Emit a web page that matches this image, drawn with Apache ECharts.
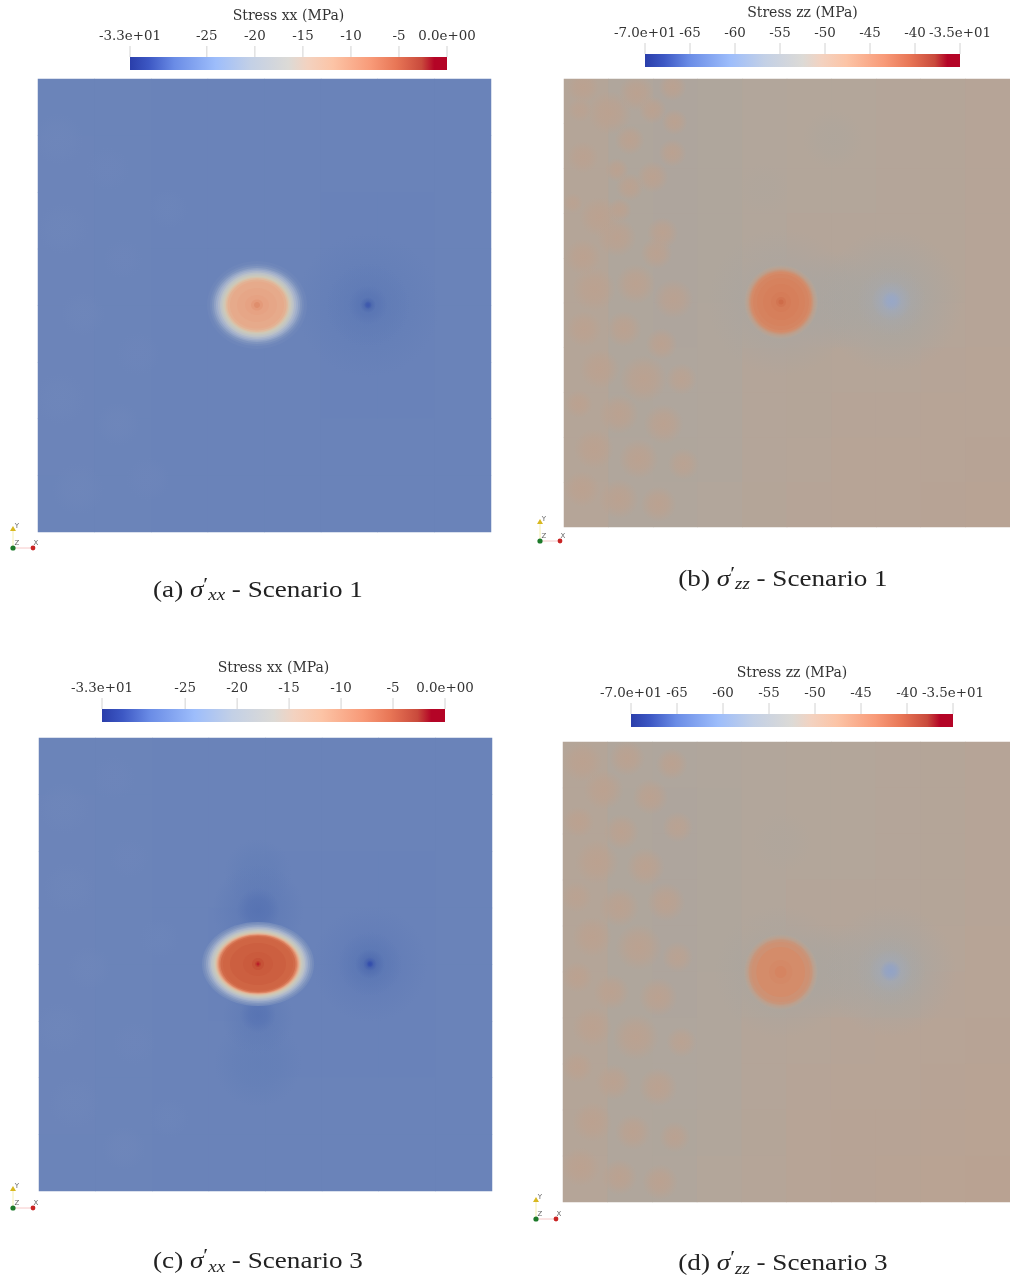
<!DOCTYPE html>
<html><head><meta charset="utf-8"><style>html,body{margin:0;padding:0;background:#fff}#c{width:1010px;height:1277px}</style>
<script src="https://cdn.jsdelivr.net/npm/echarts@6/dist/echarts.min.js"></script></head>
<body><div id="c"></div><script>
// ---------- tick labels / titles ----------
const ticksXX=[-33,-25,-20,-15,-10,-5,0];
const labelsXX=["-3.3e+01","-25","-20","-15","-10","-5","0.0e+00"];
const ticksZZ=[-70,-65,-60,-55,-50,-45,-40,-35];
const labelsZZ=["-7.0e+01","-65","-60","-55","-50","-45","-40","-3.5e+01"];
// colour legend gradient (fraction along bar, colour)
const barStops=[[0,'#2a3eaa'],[0.06,'#3d58c4'],[0.14,'#6a8ce6'],[0.27,'#9dbdfb'],[0.38,'#c3d0e6'],[0.5,'#dcdad6'],[0.56,'#f3d2c0'],[0.64,'#fcc4a6'],[0.76,'#f89a78'],[0.84,'#e87656'],[0.92,'#c94a3c'],[0.96,'#b40426'],[1,'#b40426']];
// shaded field colours (stress value, colour)
const fieldXX=[[-33,'#2c46ac'],[-30,'#4a66ad'],[-28.5,'#5c78b5'],[-27,'#6a83b9'],[-24,'#8095bf'],[-21,'#a0aecb'],[-18,'#bcc2c8'],[-15,'#ccc9ba'],[-13,'#dbc2a8'],[-10.5,'#e6ab8d'],[-9,'#e6a080'],[-7,'#dd8866'],[-5,'#cf6544'],[-3.5,'#c54f35'],[-2,'#bf3a2c'],[0,'#b40426']];
const fieldZZ=[[-70,'#2c46ac'],[-60,'#7c93c8'],[-56,'#97a7c8'],[-54,'#a0a9ba'],[-52,'#a8a6a3'],[-51,'#aba59e'],[-50,'#b2a69b'],[-49,'#b8a394'],[-48,'#bda08d'],[-46.5,'#d48c6a'],[-45,'#d67f5b'],[-43,'#cf6f4c'],[-41,'#c9613f'],[-35,'#b40426']];
// ---------- base stress fields (MPa), rows top to bottom ----------
const gridA=[
[-26.9,-26.9,-27,-27,-27,-27,-27,-27],
[-26.8,-26.9,-27,-27,-27,-27,-27,-27],
[-26.8,-26.9,-27,-27,-27,-27.1,-27.1,-27],
[-26.8,-26.9,-27,-27,-27,-27.1,-27.1,-27],
[-26.8,-26.9,-27,-27,-27,-27.1,-27.1,-27],
[-26.8,-26.9,-27,-27,-27,-27.1,-27.1,-27],
[-26.8,-26.9,-27,-27,-27,-27,-27,-27],
[-26.9,-26.9,-27,-27,-27,-27,-27,-27]];
const gridC=[
[-26.9,-26.9,-27,-27,-27,-27,-27,-27],
[-26.8,-26.9,-27,-27,-27,-27,-27,-27],
[-26.8,-26.9,-27,-27,-27.1,-27.1,-27.1,-27],
[-26.8,-26.9,-27,-27.1,-27.1,-27.1,-27.1,-27],
[-26.8,-26.9,-27,-27.1,-27.1,-27.1,-27.1,-27],
[-26.8,-26.9,-27,-27,-27.1,-27.1,-27.1,-27],
[-26.8,-26.9,-27,-27,-27,-27,-27,-27],
[-26.9,-26.9,-27,-27,-27,-27,-27,-27]];
const gridB=[
[-49.6,-50.3,-50.6,-50.4,-50,-49.9,-49.9,-49.8,-49.6,-49.4],
[-49.6,-50.4,-50.6,-50.4,-50,-49.9,-49.9,-49.8,-49.6,-49.4],
[-49.6,-50.4,-50.6,-50.4,-50,-49.9,-49.9,-49.8,-49.6,-49.4],
[-49.6,-50.4,-50.6,-50.4,-50,-49.8,-49.8,-49.8,-49.6,-49.4],
[-49.6,-50.4,-50.6,-50.4,-49.9,-49.8,-49.8,-49.7,-49.6,-49.4],
[-49.6,-50.4,-50.6,-50.3,-49.9,-49.7,-49.7,-49.6,-49.5,-49.4],
[-49.6,-50.4,-50.5,-50.3,-49.8,-49.6,-49.5,-49.5,-49.4,-49.3],
[-49.6,-50.4,-50.5,-50.2,-49.8,-49.6,-49.4,-49.4,-49.3,-49.2],
[-49.6,-50.3,-50.4,-50.2,-49.7,-49.5,-49.3,-49.3,-49.2,-49.1],
[-49.5,-50.2,-50.3,-50,-49.6,-49.4,-49.3,-49.2,-49.1,-49]];
const gridD=[
[-49.6,-50.2,-50.5,-50.3,-50,-49.9,-49.9,-49.8,-49.6,-49.4],
[-49.6,-50.4,-50.6,-50.4,-50,-49.9,-49.9,-49.8,-49.6,-49.4],
[-49.6,-50.4,-50.6,-50.4,-50,-49.9,-49.9,-49.8,-49.6,-49.4],
[-49.6,-50.4,-50.6,-50.4,-50,-49.8,-49.8,-49.8,-49.6,-49.4],
[-49.6,-50.4,-50.6,-50.4,-49.9,-49.8,-49.8,-49.7,-49.5,-49.3],
[-49.6,-50.4,-50.6,-50.3,-49.9,-49.7,-49.7,-49.6,-49.4,-49.3],
[-49.6,-50.4,-50.5,-50.3,-49.8,-49.5,-49.4,-49.3,-49.2,-49.1],
[-49.6,-50.4,-50.5,-50.2,-49.7,-49.4,-49.2,-49.2,-49.1,-49],
[-49.6,-50.3,-50.4,-50.1,-49.6,-49.3,-49.1,-49.1,-49,-48.9],
[-49.5,-50.2,-50.2,-49.9,-49.5,-49.2,-49.1,-49,-48.9,-48.8]];
// ---------- diffuse patches: [centre x, centre y, radius x, radius y, MPa] ----------
const softA=[
[20,60,26,34,-26.5],[70,90,22,28,-26.6],[25,150,28,26,-26.5],[85,180,20,30,-26.6],[45,235,26,22,-26.5],[100,275,22,26,-26.6],[22,320,26,30,-26.5],[80,345,26,22,-26.5],[110,400,22,28,-26.6],[40,410,26,28,-26.5],[130,130,22,20,-26.7],
[330,226,72,86,-27.7],[330,226,42,48,-28.1],[330,226,20,22,-28.8],[330,226,8,8,-30],[330,226,4,4,-31.5]];
const softC=[
[25,70,26,30,-26.5],[75,40,22,28,-26.6],[30,150,28,26,-26.5],[90,120,20,30,-26.6],[50,230,26,22,-26.5],[20,290,26,30,-26.5],[95,305,22,26,-26.6],[35,365,26,26,-26.5],[85,410,26,22,-26.5],[120,200,20,28,-26.7],[130,380,20,26,-26.7],
[219,135,34,62,-27.6],[219,325,44,62,-27.6],[219,172,46,46,-28.1],[219,172,30,22,-29],[219,280,46,36,-28],[219,277,32,18,-28.9],
[331,226,58,92,-27.9],[331,226,32,42,-28.6],[331,226,15,18,-29.6],[331,226,7,7,-31],[331,226,3.5,3.5,-32.5]];
const softB=[
[19,8,24,16,-48.3],[73,14,30,18,-48.3],[46,34,22,24,-48.3],[66,61,28,15,-48.3],[111,43,18,13,-48.3],[109,8,20,14,-48.3],[89,31,14,22,-48.3],[16,31,12,22,-48.5],[19,78,16,26,-48.4],[89,98,28,16,-48.3],[66,108,24,14,-48.3],[53,91,18,12,-48.3],[36,138,26,20,-48.3],[53,158,20,28,-48.3],[99,154,16,28,-48.3],[19,178,18,28,-48.3],[93,174,22,16,-48.3],[109,74,14,16,-48.3],[9,124,10,24,-48.5],[56,131,18,12,-48.3],
[30,210,28,22,-48.3],[72,205,24,20,-48.3],[110,220,20,24,-48.4],[20,250,18,26,-48.3],[60,250,28,18,-48.3],[98,265,22,16,-48.3],[36,290,28,20,-48.3],[80,300,24,24,-48.3],[118,300,16,20,-48.5],[15,325,14,26,-48.3],[55,335,24,20,-48.3],[100,345,24,20,-48.3],[30,370,24,20,-48.3],[75,380,28,20,-48.3],[120,385,16,20,-48.5],[18,410,18,24,-48.3],[55,420,24,20,-48.3],[95,425,24,18,-48.3],
[270,60,40,30,-50.4],[200,110,40,26,-50.3],
[272,222,76,50,-51.2],[218,223,74,74,-51.4],[329,222,72,74,-51.6],[329,222,35,37,-52.6],[329,222,20,22,-54],[329,222,10,10,-56]];
const softD=[
[20,20,24,20,-48.3],[66,16,28,18,-48.3],[112,22,20,16,-48.3],[42,48,24,20,-48.3],[90,55,24,18,-48.3],[16,80,16,26,-48.3],[60,90,28,18,-48.3],[118,85,16,24,-48.5],[35,120,24,22,-48.3],[85,125,20,24,-48.3],[14,155,16,24,-48.5],[58,165,28,20,-48.3],[106,160,20,20,-48.3],[30,195,24,20,-48.3],[78,205,24,24,-48.3],[118,215,16,20,-48.5],[15,235,16,26,-48.3],[50,250,28,18,-48.3],[98,255,20,20,-48.3],[30,285,24,20,-48.3],[75,295,24,24,-48.3],[122,300,16,20,-48.5],[15,325,16,24,-48.3],[52,340,24,18,-48.3],[98,345,20,22,-48.3],[30,380,24,20,-48.3],[72,390,24,18,-48.3],[115,395,16,20,-48.4],[18,425,20,20,-48.3],[58,435,28,18,-48.3],[100,440,20,18,-48.3],
[225,100,60,30,-50.3],
[278,229,74,48,-51],[224,230,68,68,-51.2],[337,229,68,70,-51.5],[337,229,36,38,-52.4],[337,229,22,24,-53.5],[337,229,11,11,-57]];
// ---------- stress contours: same columns, outermost first ----------
const contoursA=[
[219,226,50,44,-26.5],[219,226,47,41,-25.5],[219,226,45,39,-24],[219,226,43,37,-22.5],[219,226,41,35.5,-21],[219,226,39,34,-19.5],[219,226,37,32.5,-18],[219,226,35.5,31,-16.5],[219,226,34,29.5,-15],[219,226,32.5,28,-13.5],[219,226,31,27,-12.2],[219,226,29.5,25.5,-11],[219,226,27,23.5,-10.3],[219,226,20,17,-9.8],[219,226,12,10,-9.3],[219,226,6,5.5,-8.5],[219,226,3,3,-7.5]];
const contoursB=[
[218,223,37,37,-50.3],[218,223,36,36,-49.5],[218,223,35,35,-48.8],[218,223,34,34,-48.2],[218,223,33,33,-47.7],[218,223,32,32,-47.2],[218,223,31,31,-46.8],[218,223,30,30,-46.3],[218,223,28,28,-45.7],[218,223,24,24,-45.3],[218,223,18,18,-45],[218,223,10,10,-44.6],[218,223,5,5,-43.8],[218,223,2.5,2.5,-42.5]];
const contoursC=[
[219,226,56,42,-25.5],[219,226,54,40.5,-24],[219,226,52,39,-22.5],[219,226,50,37.5,-21],[219,226,48.5,36.5,-19.5],[219,226,47,35,-18],[219,226,45.5,34,-16.5],[219,226,44,33,-15],[219,226,43,32,-13.5],[219,226,42,31,-12],[219,226,41,30,-10],[219,226,40,29.5,-8],[219,226,39,29,-6.5],[219,226,37.5,28,-5.3],[219,226,35,26.5,-5],[219,226,28,21,-4.6],[219,226,15,12,-4.3],[219,226,6,6,-3.7],[219,226,3,3,-2.5],[219,226,1.5,1.5,-1]];
const contoursD=[
[224,230,38,38,-50.3],[224,230,37,37,-49.6],[224,230,36,36,-49],[224,230,35,35,-48.4],[224,230,34,34,-47.9],[224,230,33,33,-47.5],[224,230,32,32,-47.2],[224,230,30,30,-46.9],[224,230,25,25,-46.5],[224,230,12,12,-46.2],[224,230,6,6,-45.6]];
// ---------- page layout ----------
const panels=[
 {grid:gridA,soft:softA,cont:contoursA,pal:fieldXX,rect:[38,79,453,453],bar:[130,57,317,13],ticks:ticksXX,labels:labelsXX,title:'Stress xx (MPa)',vmin:-33,vmax:0,cap:'(a) ',sub:'xx',sc:' - Scenario 1',capAt:[258,590.5],triad:[13,548],bg:-27},
 {grid:gridB,soft:softB,cont:contoursB,pal:fieldZZ,rect:[564,79,448,448],bar:[645,54,315,13],ticks:ticksZZ,labels:labelsZZ,title:'Stress zz (MPa)',vmin:-70,vmax:-35,cap:'(b) ',sub:'zz',sc:' - Scenario 1',capAt:[783,579.5],triad:[540,541],bg:-49.8},
 {grid:gridC,soft:softC,cont:contoursC,pal:fieldXX,rect:[39,738,453,453],bar:[102,709,343,13],ticks:ticksXX,labels:labelsXX,title:'Stress xx (MPa)',vmin:-33,vmax:0,cap:'(c) ',sub:'xx',sc:' - Scenario 3',capAt:[258,1262],triad:[13,1208],bg:-27},
 {grid:gridD,soft:softD,cont:contoursD,pal:fieldZZ,rect:[563,742,460,460],bar:[631,714,322,13],ticks:ticksZZ,labels:labelsZZ,title:'Stress zz (MPa)',vmin:-70,vmax:-35,cap:'(d) ',sub:'zz',sc:' - Scenario 3',capAt:[783,1264],triad:[536,1219],bg:-49.8}];
function hex(c){return [1,3,5].map(i=>parseInt(c.substr(i,2),16));}
function rgbAt(st,v){
 if(v<=st[0][0])return hex(st[0][1]);
 for(let i=1;i<st.length;i++){if(v<=st[i][0]){const t=(v-st[i-1][0])/(st[i][0]-st[i-1][0]),a=hex(st[i-1][1]),b=hex(st[i][1]);
  return a.map((x,k)=>Math.round(x+(b[k]-x)*t));}}
 return hex(st[st.length-1][1]);}
function colorAt(st,v){return 'rgb('+rgbAt(st,v).join(',')+')';}
function softFill(st,v){const c=rgbAt(st,v).join(',');
 return new echarts.graphic.RadialGradient(0.5,0.5,0.5,[{offset:0,color:'rgba('+c+',0.9)'},{offset:0.5,color:'rgba('+c+',0.65)'},{offset:1,color:'rgba('+c+',0)'}]);}
const SERIF='"DejaVu Serif"',CAP='"Liberation Serif"';
const grids=[],xA=[],yA=[],series=[],vms=[],gfx=[];
panels.forEach((p,i)=>{
 const [x,y,w,h]=p.rect;
 // heatmap base
 let g=grids.length;grids.push({show:true,backgroundColor:colorAt(p.pal,p.bg),borderWidth:0,left:x,top:y,width:w,height:h});
 xA.push({type:'category',gridIndex:g,data:p.grid[0].map((_,k)=>k),show:false});
 yA.push({type:'category',gridIndex:g,inverse:true,data:p.grid.map((_,k)=>k),show:false});
 const data=[];p.grid.forEach((r,ri)=>r.forEach((v,ci)=>data.push([ci,ri,v])));
 const si=series.length;
 series.push({type:'heatmap',xAxisIndex:g,yAxisIndex:g,data,z:1,silent:true,progressive:0});
 const cl=[];const lo=p.pal[0][0],hi=p.pal[p.pal.length-1][0];
 for(let k=0;k<=280;k++)cl.push(colorAt(p.pal,lo+(hi-lo)*k/280));
 vms.push({type:'continuous',show:false,min:lo,max:hi,seriesIndex:si,dimension:2,inRange:{color:cl}});
 // patches and contours
 g=grids.length;grids.push({left:x,top:y,width:w,height:h});
 xA.push({type:'value',gridIndex:g,min:0,max:w,show:false});
 yA.push({type:'value',gridIndex:g,min:0,max:h,inverse:true,show:false});
 const ell=soft=>(ps,api)=>{const c=api.coord([api.value(0),api.value(1)]),s=api.size([api.value(2),api.value(3)]);
   return {type:'ellipse',shape:{cx:c[0],cy:c[1],rx:s[0],ry:s[1]},style:{fill:soft?softFill(p.pal,api.value(4)):colorAt(p.pal,api.value(4))}};};
 series.push({type:'custom',xAxisIndex:g,yAxisIndex:g,data:p.soft,z:2,silent:true,clip:true,encode:{x:0,y:1},renderItem:ell(true)});
 series.push({type:'custom',xAxisIndex:g,yAxisIndex:g,data:p.cont,z:3,silent:true,clip:true,encode:{x:0,y:1},renderItem:ell(false)});
 // colour bar
 const [bx,by,bw,bh]=p.bar;
 g=grids.length;grids.push({left:bx,top:by,width:bw,height:bh});
 xA.push({type:'value',gridIndex:g,min:p.vmin,max:p.vmax,position:'top',name:p.title,nameLocation:'middle',nameGap:34,
  nameTextStyle:{fontFamily:SERIF,fontSize:14,color:'#333'},splitLine:{show:false},axisLine:{show:false},axisTick:{show:false},
  axisLabel:{show:true,margin:14,customValues:p.ticks,hideOverlap:false,fontFamily:SERIF,fontSize:13.4,color:'#333',
   formatter:v=>{const k=p.ticks.indexOf(v);return k<0?'':p.labels[k];}}});
 yA.push({type:'value',gridIndex:g,min:0,max:1,show:false});
 series.push({type:'custom',xAxisIndex:g,yAxisIndex:g,data:[[p.vmin,p.vmax]],z:2,silent:true,encode:{x:[0,1]},
  renderItem:(ps,api)=>{const a=api.coord([api.value(0),1]),b=api.coord([api.value(1),0]);
   return {type:'rect',shape:{x:a[0],y:a[1],width:b[0]-a[0],height:b[1]-a[1]},
    style:{fill:new echarts.graphic.LinearGradient(0,0,1,0,barStops.map(s=>({offset:s[0],color:s[1]})))}};}});
 series.push({type:'custom',xAxisIndex:g,yAxisIndex:g,data:p.ticks.map(t=>[t]),z:2,silent:true,clip:false,encode:{x:0},
  renderItem:(ps,api)=>{const a=api.coord([api.value(0),1]);
   return {type:'line',shape:{x1:a[0],y1:a[1],x2:a[0],y2:a[1]-11},style:{stroke:'#d2d2d2',lineWidth:1}};}});
 // caption
 gfx.push({type:'text',x:p.capAt[0],y:p.capAt[1],scaleX:1.18,style:{text:'{t|'+p.cap+'}{s|σ}{p|′}{b|'+p.sub+'}{t|'+p.sc+'}',align:'center',verticalAlign:'middle',
  rich:{t:{fontFamily:CAP,fontSize:23,fill:'#222'},s:{fontFamily:CAP,fontSize:23,fontStyle:'italic',fill:'#222'},
   p:{fontFamily:CAP,fontSize:19,fill:'#222',padding:[0,0,9,0]},b:{fontFamily:CAP,fontSize:16,fontStyle:'italic',fill:'#222',padding:[11,0,0,0]}}}});
 // orientation triad
 const [tx,ty]=p.triad;
 gfx.push({type:'line',shape:{x1:tx,y1:ty,x2:tx,y2:ty-17},style:{stroke:'#f5efb0',lineWidth:1}});
 gfx.push({type:'line',shape:{x1:tx,y1:ty,x2:tx+20,y2:ty},style:{stroke:'#f6c8c8',lineWidth:1}});
 gfx.push({type:'polygon',shape:{points:[[tx,ty-22],[tx-3,ty-17],[tx+3,ty-17]]},style:{fill:'#d8b820'}});
 gfx.push({type:'circle',shape:{cx:tx,cy:ty,r:2.6},style:{fill:'#1d7a2a'}});
 gfx.push({type:'circle',shape:{cx:tx+20,cy:ty,r:2.4},style:{fill:'#c92424'}});
 [['Y',tx+4,ty-22],['Z',tx+4,ty-5],['X',tx+23,ty-5]].forEach(t=>gfx.push({type:'text',x:t[1],y:t[2],style:{text:t[0],font:'7px "DejaVu Sans"',fill:'#666',align:'center',verticalAlign:'middle'}}));
});
const chart=echarts.init(document.getElementById('c'),null,{renderer:'canvas'});
chart.setOption({animation:false,backgroundColor:'#fff',tooltip:{show:false},grid:grids,xAxis:xA,yAxis:yA,visualMap:vms,series,graphic:{elements:gfx}});
</script></body></html>
